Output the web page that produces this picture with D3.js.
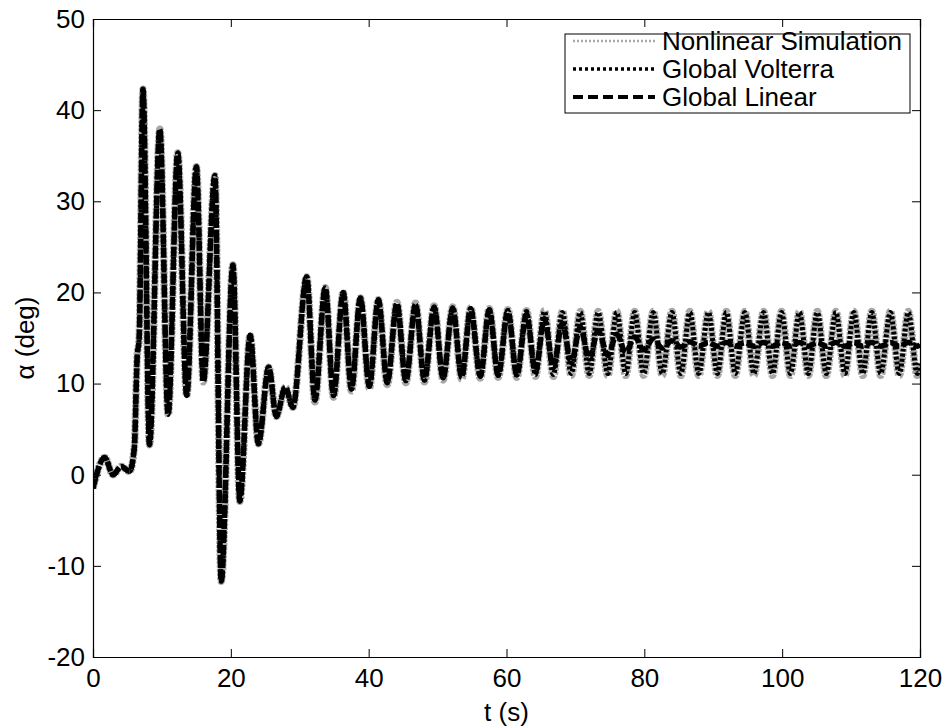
<!DOCTYPE html>
<html>
<head>
<meta charset="utf-8">
<script src="https://cdn.jsdelivr.net/npm/d3@7"></script>
<style>
  html, body { margin: 0; padding: 0; background: #fff; }
  svg { display: block; }
  text { font-family: "Liberation Sans", Arial, sans-serif; fill: #000; }
</style>
</head>
<body>
<svg id="chart" width="943" height="727"></svg>
<script>
// ---- data (extrema of the oscillations) ----
const time = [
  0, 1.7, 2.9, 4.1, 5.3, 6.0, 6.4, 6.7, 7.25, 8.2,
  9.7, 10.9, 12.3, 13.6, 15.0, 16.0, 17.7, 18.6, 20.3, 21.3,
  22.8, 24.0, 25.5, 26.6, 27.9, 29.0, 31.0, 32.2, 33.7, 34.9,
  36.3, 37.5, 38.8, 40.1, 41.4, 42.7, 44.1, 45.4, 46.8, 48.1,
  49.5, 50.8, 52.2, 53.5, 54.8, 56.2, 57.5, 58.8, 60.2, 61.5,
  62.9, 64.2, 65.5, 66.8, 68.1, 69.4, 70.7, 72.0, 73.3, 74.7,
  76.0, 77.3, 78.6, 79.9, 81.3, 82.6, 84.0, 85.3, 86.6, 87.9,
  89.3, 90.6, 91.9, 93.2, 94.6, 95.9, 97.3, 98.6, 99.9, 101.2,
  102.5, 103.8, 105.1, 106.4, 107.8, 109.1, 110.4, 111.7, 113.0, 114.3,
  115.7, 117.0, 118.3, 119.6, 120
];
const nonlinearSimulation = [
  -1.5, 1.9, 0.0, 0.9, 0.35, 3.0, 12.8, 15.0, 42.3, 3.3,
  37.9, 6.6, 35.3, 8.7, 33.8, 10.2, 32.8, -11.7, 23.0, -2.9,
  15.3, 3.4, 11.8, 6.4, 9.6, 7.4, 21.7, 8.0, 20.5, 8.5,
  20.0, 9.2, 19.4, 9.5, 19.2, 9.9, 18.9, 10.1, 18.8, 10.2,
  18.5, 10.4, 18.4, 10.5, 18.3, 10.6, 18.2, 10.7, 18.1, 10.7,
  18.0, 10.8, 18.0, 10.8, 17.9, 10.9, 17.9, 10.9, 17.9, 10.9,
  17.9, 10.9, 17.9, 10.9, 17.9, 10.9, 17.9, 10.9, 17.9, 10.9,
  17.9, 10.9, 17.9, 10.9, 17.9, 10.9, 17.9, 10.9, 17.9, 10.9,
  17.9, 10.9, 17.9, 10.9, 17.9, 10.9, 17.9, 10.9, 17.9, 10.9,
  17.9, 10.9, 17.9, 10.9, 12.0
];
const globalVolterra = [
  -1.5, 1.9, 0.0, 0.9, 0.35, 3.0, 12.8, 15.0, 42.3, 3.3,
  37.9, 6.6, 35.3, 8.7, 33.8, 10.2, 32.8, -11.7, 23.0, -2.9,
  15.3, 3.4, 11.8, 6.4, 9.6, 7.4, 21.7, 8.2, 20.5, 8.7,
  20.0, 9.4, 19.4, 9.7, 19.2, 10.1, 18.8, 10.3, 18.7, 10.4,
  18.4, 10.6, 18.3, 10.7, 18.2, 10.8, 18.1, 10.9, 18.0, 10.9,
  17.9, 11.0, 17.9, 11.0, 17.8, 11.1, 17.8, 11.1, 17.8, 11.1,
  17.8, 11.1, 17.8, 11.1, 17.8, 11.1, 17.8, 11.1, 17.8, 11.1,
  17.8, 11.1, 17.8, 11.1, 17.8, 11.1, 17.8, 11.1, 17.8, 11.1,
  17.8, 11.1, 17.8, 11.1, 17.8, 11.1, 17.8, 11.1, 17.8, 11.1,
  17.8, 11.1, 17.8, 11.1, 12.2
];
const globalLinear = [
  -1.5, 1.9, 0.0, 0.9, 0.35, 3.0, 12.8, 15.0, 42.3, 3.3,
  37.9, 6.6, 35.3, 8.7, 33.8, 10.2, 32.8, -11.7, 23.0, -2.9,
  15.3, 3.4, 11.8, 6.4, 9.6, 7.4, 21.7, 8.2, 20.5, 8.7,
  20.0, 9.4, 19.4, 9.7, 19.2, 10.1, 18.8, 10.3, 18.7, 10.4,
  18.4, 10.6, 18.3, 10.7, 18.2, 10.8, 18.1, 10.9, 18.0, 10.9,
  17.6, 11.3, 17.1, 11.8, 16.6, 12.3, 16.2, 12.7, 15.8, 13.1,
  15.4, 13.4, 15.1, 13.7, 14.9, 13.9, 14.7, 14.0, 14.6, 14.1,
  14.5, 14.1, 14.5, 14.1, 14.5, 14.1, 14.5, 14.1, 14.5, 14.1,
  14.5, 14.1, 14.5, 14.1, 14.5, 14.1, 14.5, 14.1, 14.5, 14.1,
  14.5, 14.1, 14.5, 14.1, 14.3
];
const xTicks = [0, 20, 40, 60, 80, 100, 120];
const yTicks = [-20, -10, 0, 10, 20, 30, 40, 50];
const legendLabels = ["Nonlinear Simulation", "Global Volterra", "Global Linear"];
const xLabel = "t (s)";
const yLabel = "\u03B1 (deg)";

// ---- layout ----
const margin = { left: 93, right: 943 - 920, top: 19, bottom: 727 - 657 };
const W = 943, H = 727;
const svg = d3.select("#chart");
const x = d3.scaleLinear().domain([0, 120]).range([margin.left, W - margin.right]);
const y = d3.scaleLinear().domain([-20, 50]).range([H - margin.bottom, margin.top]);

const styles = [
  { color: "#a8a8a8", width: 7.5, dash: "3,1", legendWidth: 2.5, legendDash: "2,2" },
  { color: "#000", width: 5, dash: "3,2", legendWidth: 3.5, legendDash: "3,3" },
  { color: "#000", width: 5.5, dash: "10,3", legendWidth: 4, legendDash: "10,5" }
];
const seriesValues = [nonlinearSimulation, globalVolterra, globalLinear];

// clip
svg.append("clipPath").attr("id", "clip").append("rect")
  .attr("x", x(0)).attr("y", y(50)).attr("width", x(120) - x(0)).attr("height", y(-20) - y(50));

const line = d3.line().x(d => x(d[0])).y(d => y(d[1])).curve(d3.curveMonotoneX);
const plot = svg.append("g").attr("clip-path", "url(#clip)");
seriesValues.forEach((vals, i) => {
  const pts = time.map((t, k) => [t, vals[k]]);
  plot.append("path")
    .attr("d", line(pts))
    .attr("fill", "none")
    .attr("stroke", styles[i].color)
    .attr("stroke-width", styles[i].width)
    .attr("stroke-dasharray", styles[i].dash)
    .attr("stroke-linejoin", "round");
});

// axes box
const fontSize = 26;
const tickLen = 8;
const fmt = d => String(d);
const xAxisB = d3.axisBottom(x).tickValues(xTicks).tickSize(-tickLen).tickPadding(12).tickFormat(fmt);
const xAxisT = d3.axisTop(x).tickValues(xTicks).tickSize(-tickLen).tickFormat("");
const yAxisL = d3.axisLeft(y).tickValues(yTicks).tickSize(-tickLen).tickPadding(8).tickFormat(fmt);
const yAxisR = d3.axisRight(y).tickValues(yTicks).tickSize(-tickLen).tickFormat("");

function styleAxis(g) {
  g.selectAll("path.domain").attr("stroke", "#000").attr("stroke-width", 1.2);
  g.selectAll(".tick line").attr("stroke", "#000").attr("stroke-width", 1);
  g.selectAll("text").attr("font-size", fontSize).attr("font-family", "Liberation Sans, Arial, sans-serif").attr("fill", "#000");
}
svg.append("g").attr("transform", `translate(0,${y(-20)})`).call(xAxisB).call(styleAxis);
svg.append("g").attr("transform", `translate(0,${y(50)})`).call(xAxisT).call(styleAxis);
svg.append("g").attr("transform", `translate(${x(0)},0)`).call(yAxisL).call(styleAxis);
svg.append("g").attr("transform", `translate(${x(120)},0)`).call(yAxisR).call(styleAxis);

// axis labels
svg.append("text").attr("x", (x(0) + x(120)) / 2).attr("y", 721)
  .attr("text-anchor", "middle").attr("font-size", fontSize).text(xLabel);
svg.append("text").attr("transform", `translate(34,${(y(-20) + y(50)) / 2}) rotate(-90)`)
  .attr("text-anchor", "middle").attr("font-size", fontSize).text(yLabel);

// legend
const lg = svg.append("g");
lg.append("rect").attr("x", 565).attr("y", 34).attr("width", 345).attr("height", 79)
  .attr("fill", "#fff").attr("stroke", "#000").attr("stroke-width", 1);
legendLabels.forEach((lab, i) => {
  const cy = 41 + i * 28;
  lg.append("line").attr("x1", 573).attr("x2", 655).attr("y1", cy).attr("y2", cy)
    .attr("stroke", styles[i].color).attr("stroke-width", styles[i].legendWidth)
    .attr("stroke-dasharray", styles[i].legendDash);
  lg.append("text").attr("x", 662).attr("y", cy + 9).attr("font-size", fontSize).text(lab);
});
</script>
</body>
</html>
